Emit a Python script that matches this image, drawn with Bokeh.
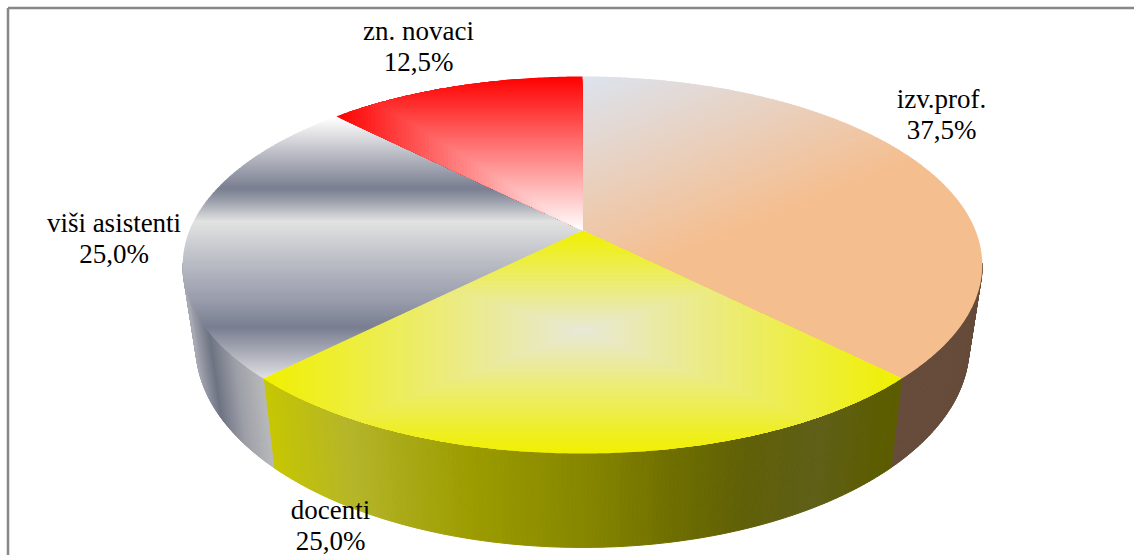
from math import sin, cos, radians
from bokeh.plotting import figure
from bokeh.models import Range1d
from bokeh.core.properties import value
from bokeh.embed import file_html
from bokeh.resources import INLINE

# ---- data ----
categories = ["izv.prof.", "docenti", "viši asistenti", "zn. novaci"]
shares = [37.5, 25.0, 25.0, 12.5]

# ---- label placement (anchor centre x, name baseline y) ----
label_x = [941, 330, 113.5, 418]
label_y = [98, 509.5, 222.3, 30.7]
LINE_GAP = 31

# ---- 3D projection of the pie ----
CX, CY = 582.0, 230.0
K = 0.183
TOP_A, TOP_B = 182.2, 393.0
BOT_Y, BOT_A, BOT_B = 309.5, 194.0, 380.0


def top_pt(th):
    u, v = sin(radians(th)), cos(radians(th))
    w = 1 + K * v
    return CX + TOP_B * u / w, CY - TOP_A * v / w


def bot_pt(th):
    u, v = sin(radians(th)), cos(radians(th))
    w = 1 + K * v
    return CX + BOT_B * u / w, BOT_Y - BOT_A * v / w


def hexrgb(h):
    return tuple(int(h[i:i + 2], 16) for i in (1, 3, 5))


def ramp(stops, t):
    if t <= stops[0][0]:
        return stops[0][1]
    for (a, ca), (b, cb) in zip(stops, stops[1:]):
        if t <= b:
            f = (t - a) / (b - a)
            ra, rb = hexrgb(ca), hexrgb(cb)
            return "#%02x%02x%02x" % tuple(round(x + (y - x) * f) for x, y in zip(ra, rb))
    return stops[-1][1]


def clip(poly, nx, ny, d):
    """keep the part of poly where nx*x + ny*y >= d"""
    out = []
    for i, (x1, y1) in enumerate(poly):
        x2, y2 = poly[(i + 1) % len(poly)]
        s1, s2 = nx * x1 + ny * y1 - d, nx * x2 + ny * y2 - d
        if s1 >= 0:
            out.append((x1, y1))
        if (s1 >= 0) != (s2 >= 0):
            f = s1 / (s1 - s2)
            out.append((x1 + (x2 - x1) * f, y1 + (y2 - y1) * f))
    return out


# ---- gradient styles ----
GREY_TOP = [(117, "#ffffff"), (130, "#e8e8ea"), (160, "#aeb0bb"), (188, "#797e90"), (200, "#9a9eaa"),
            (221, "#e2e2e2"), (260, "#bcbec6"), (300, "#989cab"), (327, "#797e90"), (350, "#a6a9b5"),
            (378, "#e0e0e4")]
GREY_SIDE = [(182, "#b0b3bb"), (195, "#a0a3ad"), (214, "#6e7383"), (240, "#9ea0a8"), (272, "#bcbcbc")]
YELLOW_SIDE = [(262, "#c8c800"), (300, "#bfbf10"), (352, "#b5b52a"), (400, "#aaaa18"), (470, "#9c9c00"),
               (574, "#888800"), (608, "#808000"), (670, "#6f6f00"), (743, "#606008"), (816, "#5f5f18"),
               (880, "#5c5c00"), (905, "#5a5a00")]
PEACH = [(0, "#dce3ef"), (1, "#f5be8f")]
BROWN = [(0, "#664b3a"), (1, "#664b3a")]
RED = [(0, "#ffffff"), (1, "#ff0000")]
YELLOW = [(0, "#e8e8d8"), (1, "#f0f000")]


def paint_peach(poly):
    nx, ny, dd = 0.37, 0.93, 200.0
    d0 = nx * CX + ny * 76
    out = []
    n = 70
    for i in range(n):
        a = d0 + dd * i / n
        b = d0 + dd * (i + 1) / n + 0.7
        piece = clip(clip(poly, nx, ny, a), -nx, -ny, -b)
        if len(piece) > 2:
            out.append((piece, ramp(PEACH, (i + 0.5) / n)))
    out.append((clip(poly, nx, ny, d0 + dd), PEACH[1][1]))
    return out


def paint_grey(poly):
    out = []
    y = 110.0
    while y < 385:
        piece = clip(clip(poly, 0, 1, y), 0, -1, -(y + 2.6))
        if len(piece) > 2:
            out.append((piece, ramp(GREY_TOP, y + 1)))
        y += 2
    return out


def paint_rect(poly, stops, left, right, up, down, cy, n=64):
    out = []
    for i in range(n, 0, -1):
        t = i / n
        piece = clip(poly, 1, 0, CX - left * t)
        piece = clip(piece, -1, 0, -(CX + right * t))
        piece = clip(piece, 0, 1, cy - up * t)
        piece = clip(piece, 0, -1, -(cy + down * t))
        if len(piece) > 2:
            out.append((piece, ramp(stops, (i - 0.5) / n)))
    return out


# ---- figure: coordinates follow the picture's pixels ----
p = figure(width=1134, height=555, x_range=Range1d(0, 1134), y_range=Range1d(555, 0),
           output_backend="svg", toolbar_location=None, min_border=0,
           background_fill_color="#ffffff", border_fill_color="#ffffff")
p.styles = {"position": "absolute", "left": "0", "top": "0"}
p.axis.visible = False
p.grid.visible = False
p.outline_line_color = None

# chart frame
p.line([7.5, 7.5], [7.5, 555], line_color="#878787", line_width=2.5)
p.line([7.5, 1134], [7.5, 7.5], line_color="#878787", line_width=2.5)

# cumulative slice angles (clockwise from the top)
total = sum(shares)
starts, ends = [], []
acc = 0.0
for s in shares:
    starts.append(acc / total * 360)
    acc += s
    ends.append(acc / total * 360)

# side wall: only the front part, between the two silhouette tangents
side_styles = [BROWN, YELLOW_SIDE, GREY_SIDE, BROWN]
STEP = 0.5
for a, b, stops in zip(starts, ends, side_styles):
    xs, ys, cols = [], [], []
    th = a
    while th < b - 1e-6:
        t2 = min(th + STEP, b)
        if cos(radians(th + STEP / 2)) < -K + 0.01:
            q = [top_pt(th), top_pt(t2), bot_pt(t2), bot_pt(th)]
            xs.append([c[0] for c in q])
            ys.append([c[1] for c in q])
            cols.append(ramp(stops, sum(c[0] for c in q) / 4) if stops is not BROWN else BROWN[0][1])
        th = t2
    if xs:
        p.patches(xs, ys, fill_color=cols, line_color=cols, line_width=1)

# top faces
for i, (a, b) in enumerate(zip(starts, ends)):
    n = max(8, int((b - a) * 2))
    wedge = [(CX, CY)] + [top_pt(a + (b - a) * j / n) for j in range(n + 1)]
    xmin = min(c[0] for c in wedge)
    xmax = max(c[0] for c in wedge)
    ymin = min(c[1] for c in wedge)
    ymax = max(c[1] for c in wedge)
    if i == 0:
        layers = paint_peach(wedge)
    elif i == 1:
        layers = paint_rect(wedge, YELLOW, CX - xmin, xmax - CX, 100, ymax - 330, 330)
    elif i == 2:
        layers = paint_grey(wedge)
    else:
        layers = paint_rect(wedge, RED, CX - xmin, 0.01, CY - ymin, 0.01, CY)
    p.patches([[c[0] for c in l[0]] for l in layers], [[c[1] for c in l[0]] for l in layers],
              fill_color=[l[1] for l in layers], line_color=None)

# labels
names, pcts, nx_, ny_, py_ = [], [], [], [], []
for c, s, lx, ly in zip(categories, shares, label_x, label_y):
    names.append(c)
    pcts.append(f"{s:.1f}%".replace(".", ","))
    nx_.append(lx)
    ny_.append(ly)
    py_.append(ly + LINE_GAP)
for tx, ty in ((names, ny_), (pcts, py_)):
    p.text(nx_, ty, text=tx, text_font=value("Liberation Serif"), text_font_size="27px",
           text_color="#000000", text_align="center", text_baseline="alphabetic")

open("out.html", "w").write(file_html(p, INLINE))
